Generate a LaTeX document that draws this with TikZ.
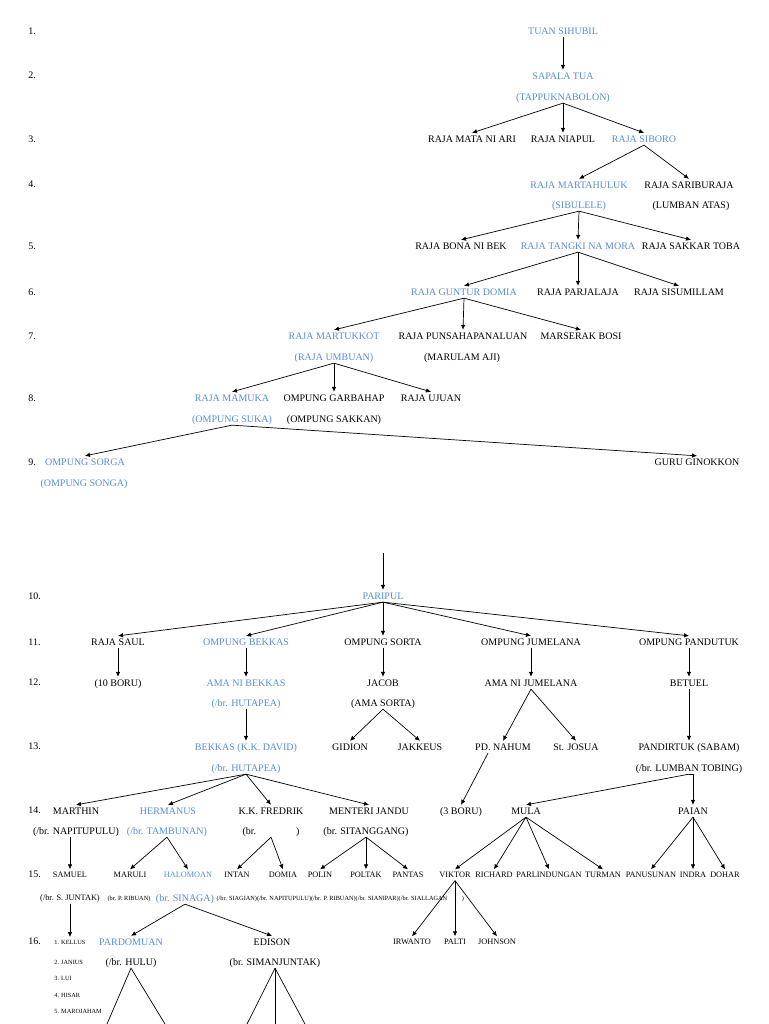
\documentclass[tikz,border=0pt]{standalone}
\usepackage{fontspec}
\setmainfont{Liberation Serif}
\usetikzlibrary{arrows.meta}
\definecolor{famblue}{RGB}{84,141,212}

\begin{document}
\begin{tikzpicture}[x=1pt,y=-1pt]
    \tikzstyle{every node}+=[inner sep=2.2pt,text height=7pt,text depth=0.5pt,font=\fontsize{10}{12}\selectfont]
    \tikzstyle{kin}=[text=famblue]
    \tikzstyle{small}=[font=\fontsize{8.3}{10}\selectfont,text height=6pt,text depth=0.5pt]
    \tikzstyle{tiny}=[font=\fontsize{6.3}{7}\selectfont,text height=4.5pt,text depth=0.5pt]
    \tikzstyle{num}=[anchor=west]
    \tikzstyle{line}=[black,line width=0.7pt,-{Latex[length=5pt,width=4.5pt]}]
    \tikzstyle{plain}=[black,line width=0.7pt]
    \useasboundingbox (0,0) rectangle (768,1024);
    \foreach \n/\y in {1/31,2/75,3/139,4/184,5/246,6/292,7/336,8/398,9/462,10/596,11/642,12/682,13/746,14/810,15/874,16/941}
        \node [num] (row\n) at (26,\y) {\n.};
    \node [kin] (tuan) at (563,31) {TUAN SIHUBIL};
    \node [kin] (sapala) at (563,76) {SAPALA TUA};
    \node [kin] (tappuk) at (563,97) {(TAPPUKNABOLON)};
    \node (matanari) at (472,139) {RAJA MATA NI ARI};
    \node (niapul) at (563,139) {RAJA NIAPUL};
    \node [kin] (siboro) at (644,139) {RAJA SIBORO};
    \node [kin] (martahuluk) at (579,185) {RAJA MARTAHULUK};
    \node [kin] (sibulele) at (579,205) {(SIBULELE)};
    \node (sariburaja) at (689,185) {RAJA SARIBURAJA};
    \node (lumbanatas) at (691,205) {(LUMBAN ATAS)};
    \node (bonanibek) at (461,246) {RAJA BONA NI BEK};
    \node [kin] (tangki) at (578,246) {RAJA TANGKI NA MORA};
    \node (sakkar) at (691,246) {RAJA SAKKAR TOBA};
    \node [kin] (guntur) at (464,292) {RAJA GUNTUR DOMIA};
    \node (parjalaja) at (578,292) {RAJA PARJALAJA};
    \node (sisumillam) at (679,292) {RAJA SISUMILLAM};
    \node [kin] (martukkot) at (334,336) {RAJA MARTUKKOT};
    \node [kin] (umbuan) at (334,357) {(RAJA UMBUAN)};
    \node (punsa) at (463,336) {RAJA PUNSAHAPANALUAN};
    \node (marulam) at (462,357) {(MARULAM AJI)};
    \node (marserak) at (581,336) {MARSERAK BOSI};
    \node [kin] (mamuka) at (232,398) {RAJA MAMUKA};
    \node [kin] (suka) at (232,419) {(OMPUNG SUKA)};
    \node (garbahap) at (334,398) {OMPUNG GARBAHAP};
    \node (sakkan) at (334,419) {(OMPUNG SAKKAN)};
    \node (ujuan) at (431,398) {RAJA UJUAN};
    \node [kin] (sorga) at (85,462) {OMPUNG SORGA};
    \node [kin] (songa) at (84,483) {(OMPUNG SONGA)};
    \node (ginokkon) at (697,462) {GURU GINOKKON};
    \draw [line] (tuan.south) -- (sapala.north);
    \foreach \c in {matanari,niapul,siboro}
        \draw [line] (tappuk.south) -- (\c.north);
    \foreach \c in {martahuluk,sariburaja}
        \draw [line] (siboro.south) -- (\c.north);
    \foreach \c in {bonanibek,tangki,sakkar}
        \draw [line] (sibulele.south) -- (\c.north);
    \foreach \c in {guntur,parjalaja,sisumillam}
        \draw [line] (tangki.south) -- (\c.north);
    \foreach \c in {martukkot,punsa,marserak}
        \draw [line] (guntur.south) -- (\c.north);
    \foreach \c in {mamuka,garbahap,ujuan}
        \draw [line] (umbuan.south) -- (\c.north);
    \foreach \c in {sorga,ginokkon}
        \draw [line] (suka.south) -- (\c.north);
    \coordinate (cont) at (383,553);
    \node [kin] (paripul) at (383,596) {PARIPUL};
    \node (saul) at (118,642) {RAJA SAUL};
    \node [kin] (bekkas) at (246,642) {OMPUNG BEKKAS};
    \node (sorta) at (383,642) {OMPUNG SORTA};
    \node (jumelana) at (531,642) {OMPUNG JUMELANA};
    \node (pandutuk) at (689,642) {OMPUNG PANDUTUK};
    \node (boru10) at (118,683) {(10 BORU)};
    \node [kin] (amabekkas) at (246,683) {AMA NI BEKKAS};
    \node [kin] (hutapeaA) at (246,703) {(/br. HUTAPEA)};
    \node (jacob) at (383,683) {JACOB};
    \node (amasorta) at (383,703) {(AMA SORTA)};
    \node (amajumelana) at (531,683) {AMA NI JUMELANA};
    \node (betuel) at (689,683) {BETUEL};
    \node [kin] (david) at (246,747) {BEKKAS (K.K. DAVID)};
    \node [kin] (hutapeaB) at (246,768) {(/br. HUTAPEA)};
    \node (gidion) at (350,747) {GIDION};
    \node (jakkeus) at (420,747) {JAKKEUS};
    \node (nahum) at (503,747) {PD. NAHUM};
    \node (josua) at (576,747) {St. JOSUA};
    \node (pandirtuk) at (689,747) {PANDIRTUK (SABAM)};
    \node (lumbantobing) at (689,768) {(/br. LUMBAN TOBING)};
    \draw [line] (cont) -- (paripul.north);
    \foreach \c in {saul,bekkas,sorta,jumelana,pandutuk}
        \draw [line] (paripul.south) -- (\c.north);
    \draw [line] (saul.south) -- (boru10.north);
    \draw [line] (bekkas.south) -- (amabekkas.north);
    \draw [line] (sorta.south) -- (jacob.north);
    \draw [line] (jumelana.south) -- (amajumelana.north);
    \draw [line] (pandutuk.south) -- (betuel.north);
    \draw [line] (hutapeaA.south) -- (david.north);
    \foreach \c in {gidion,jakkeus}
        \draw [line] (amasorta.south) -- (\c.north);
    \foreach \c in {nahum,josua}
        \draw [line] (amajumelana.south) -- (\c.north);
    \draw [line] (betuel.south) -- (pandirtuk.north);
    \node (marthin) at (76,811) {MARTHIN};
    \node (napitupulu) at (76,831) {(/br. NAPITUPULU)};
    \node [kin] (hermanus) at (168,811) {HERMANUS};
    \node [kin] (tambunan) at (167,831) {(/br. TAMBUNAN)};
    \node (fredrik) at (271,811) {K.K. FREDRIK};
    \node (fredrikbr) at (271,831) {(br.\hspace{40pt})};
    \node (menteri) at (369,811) {MENTERI JANDU};
    \node (sitanggang) at (366,831) {(br. SITANGGANG)};
    \node (boru3) at (461,811) {(3 BORU)};
    \node (mula) at (526,811) {MULA};
    \node (paian) at (693,811) {PAIAN};
    \foreach \c in {marthin,hermanus,fredrik,menteri}
        \draw [line] (hutapeaB.south) -- (\c.north);
    \draw [line] ([xshift=-15pt]nahum.south) -- (boru3.north);
    \draw [line] (lumbantobing.south) -- (mula.north);
    \draw [line] (lumbantobing.south) -- (lumbantobing.south -| paian) -- (paian.north);
    \node [small] (samuel) at (70,875) {SAMUEL};
    \node [small] (maruli) at (130,875) {MARULI};
    \node [small,kin] (halomoan) at (188,875) {HALOMOAN};
    \node [small] (intan) at (237,875) {INTAN};
    \node [small] (domia) at (283,875) {DOMIA};
    \node [small] (polin) at (320,875) {POLIN};
    \node [small] (poltak) at (366,875) {POLTAK};
    \node [small] (pantas) at (408,875) {PANTAS};
    \node [small] (viktor) at (455,875) {VIKTOR};
    \node [small] (richard) at (494,875) {RICHARD};
    \node [small] (parlindungan) at (549,875) {PARLINDUNGAN};
    \node [small] (turman) at (603,875) {TURMAN};
    \node [small] (panusunan) at (651,875) {PANUSUNAN};
    \node [small] (indra) at (693,875) {INDRA};
    \node [small] (dohar) at (725,875) {DOHAR};
    \node [small] (juntak) at (70,898) {(/br. S. JUNTAK)};
    \node [tiny] (ribuan) at (129,898) {(br. P. RIBUAN)};
    \node [kin] (sinaga) at (185,898) {(br. SINAGA)};
    \node [tiny,num,inner sep=0pt] (wives) at (sinaga.east) {(/br. SIAGIAN)(/br. NAPITUPULU)(/br. P. RIBUAN)(/br. SIANIPAR)(/br. SIALLAGAN};
    \node [tiny] (closer) at (463,898) {)};
    \draw [line] (samuel |- napitupulu.south) -- (samuel.north);
    \foreach \c in {maruli,halomoan}
        \draw [line] (tambunan.south) -- (\c.north);
    \foreach \c in {intan,domia}
        \draw [line] (fredrikbr.south) -- (\c.north);
    \foreach \c in {polin,poltak,pantas}
        \draw [line] (sitanggang.south) -- (\c.north);
    \foreach \c in {viktor,richard,parlindungan,turman}
        \draw [line] (mula.south) -- (\c.north);
    \foreach \c in {panusunan,indra,dohar}
        \draw [line] (paian.south) -- (\c.north);
    \node [tiny,num] (kellus) at (52,942) {1. KELLUS};
    \node [tiny,num] (janius) at (52,962) {2. JANIUS};
    \node [tiny,num] (lui) at (52,978) {3. LUI};
    \node [tiny,num] (hisar) at (52,995) {4. HISAR};
    \node [tiny,num] (marojaham) at (52,1011) {5. MAROJAHAM};
    \node [kin] (pardomuan) at (131,942) {PARDOMUAN};
    \node (hulu) at (131,962) {(/br. HULU)};
    \node (edison) at (272,942) {EDISON};
    \node (simanjuntak) at (275,962) {(br. SIMANJUNTAK)};
    \node [small] (irwanto) at (412,942) {IRWANTO};
    \node [small] (palti) at (455,942) {PALTI};
    \node [small] (johnson) at (497,942) {JOHNSON};
    \draw [line] (juntak.south) -- (juntak.south |- kellus.north);
    \foreach \c in {pardomuan,edison}
        \draw [line] (sinaga.south) -- (\c.north);
    \foreach \c in {irwanto,palti,johnson}
        \draw [line] (viktor.south) -- (\c.north);
    \coordinate (huluL) at (107,1024);
    \coordinate (huluR) at (165,1024);
    \coordinate (simL) at (247,1024);
    \coordinate (simM) at (275,1024);
    \coordinate (simR) at (305,1024);
    \draw [plain] (huluL) -- (hulu.south) -- (huluR);
    \foreach \c in {simL,simM,simR}
        \draw [plain] (simanjuntak.south) -- (\c);
\end{tikzpicture}
\end{document}
